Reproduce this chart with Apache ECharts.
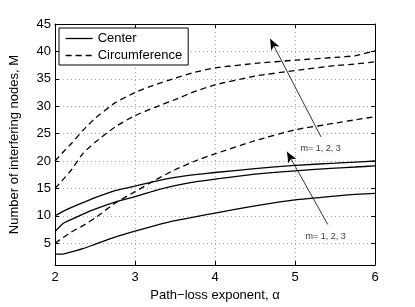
<!DOCTYPE html>
<html><head><meta charset="utf-8">
<script src="https://cdn.jsdelivr.net/npm/echarts@6/dist/echarts.min.js"></script>
<style>html,body{margin:0;padding:0;background:#fff}#c{width:415px;height:307px}</style>
</head><body><div id="c"></div>
<script>
var alpha = [2, 2.1, 2.2, 2.35, 2.5, 2.75, 3, 3.25, 3.5, 3.75, 4, 4.5, 5, 5.5, 5.75, 6];
var center1 = [3.0, 3.0, 3.4, 4.0, 4.8, 6.1, 7.2, 8.2, 9.1, 9.8, 10.5, 11.8, 12.9, 13.6, 13.9, 14.1];
var center2 = [7.1, 8.6, 9.3, 10.3, 11.2, 12.5, 13.5, 14.6, 15.5, 16.2, 16.7, 17.6, 18.2, 18.7, 18.9, 19.1];
var center3 = [10.0, 10.8, 11.5, 12.4, 13.3, 14.6, 15.4, 16.3, 17.0, 17.5, 17.9, 18.6, 19.2, 19.6, 19.8, 20.0];
var circ1 = [5.0, 6.0, 7.0, 8.2, 9.6, 12.3, 14.4, 16.5, 18.4, 20.0, 21.3, 23.7, 25.7, 26.9, 27.5, 28.1];
var circ2 = [15.0, 16.6, 18.3, 21.4, 23.4, 26.2, 28.3, 29.8, 31.2, 32.7, 33.9, 35.5, 36.5, 37.4, 37.7, 38.1];
var circ3 = [20.0, 21.6, 23.1, 25.6, 27.8, 30.6, 32.5, 33.9, 35.1, 36.2, 37.0, 37.8, 38.4, 38.9, 39.2, 40.1];
var yTicks = [5, 10, 15, 20, 25, 30, 35, 40, 45];
var arrowUp = [[5.325, 24.4], [4.69, 42.3]];
var arrowDown = [[5.41, 8.4], [4.9, 21.7]];
var noteUp = [5.07, 22.2];
var noteDown = [5.13, 6.3];
var noteText = 'm= 1, 2, 3';

function pairs(v){ return alpha.map(function(a,i){ return [a, v[i]]; }); }
var FONT = 'Liberation Sans, Arial, sans-serif';
var axisLine = {show:true, lineStyle:{color:'#000', width:1}};
var split = {show:true, lineStyle:{color:'#aaa', type:[1,3], width:1}};
function ser(name, v, dashed){
  return {name:name, type:'line', data:pairs(v), symbol:'none', showSymbol:false, smooth:0.15,
    lineStyle:{color:'#000', width:1.3, type: dashed ? [6,4] : 'solid'}, itemStyle:{color:'#000'}, z:3};
}
var chart = echarts.init(document.getElementById('c'));
chart.setOption({
  animation:false,
  textStyle:{fontFamily:FONT},
  grid:{left:54, right:40, top:24, bottom:36},
  legend:{left:59, top:28, orient:'vertical', itemWidth:27, itemHeight:10, itemGap:4,
    padding:[4,6,3,6], borderColor:'#000', borderWidth:1, backgroundColor:'#fff',
    itemStyle:{opacity:0},
    lineStyle:{color:'#000', width:1.3, opacity:1},
    textStyle:{fontSize:13, color:'#000', fontFamily:FONT},
    data:['Center','Circumference']},
  xAxis:[{type:'value', min:2, max:6, interval:1, position:'bottom',
      name:'Path\u2212loss exponent, \u03b1', nameLocation:'middle', nameGap:20,
      nameTextStyle:{fontSize:13, color:'#000'},
      axisLine:axisLine, axisTick:{inside:true, length:4, lineStyle:{color:'#000'}},
      axisLabel:{fontSize:13, color:'#000', margin:6}, splitLine:split},
    {type:'value', min:2, max:6, interval:1, position:'top',
      axisLine:axisLine, axisTick:{inside:true, length:4, lineStyle:{color:'#000'}},
      axisLabel:{show:false}, splitLine:{show:false}}],
  yAxis:[{type:'value', min:1, max:45, position:'left',
      name:'Number of interfering nodes, M', nameLocation:'middle', nameGap:34,
      nameTextStyle:{fontSize:13, color:'#000'},
      axisLine:axisLine, axisTick:{inside:true, length:4, customValues:yTicks, lineStyle:{color:'#000'}},
      axisLabel:{fontSize:13, color:'#000', margin:4, customValues:yTicks}, splitLine:split},
    {type:'value', min:1, max:45, position:'right',
      axisLine:axisLine, axisTick:{inside:true, length:4, customValues:yTicks, lineStyle:{color:'#000'}},
      axisLabel:{show:false, customValues:yTicks}, splitLine:{show:false}}],
  series:[
    ser('Center', center1, false), ser('Center', center2, false), ser('Center', center3, false),
    ser('Circumference', circ1, true), ser('Circumference', circ2, true), ser('Circumference', circ3, true),
    {type:'line', data:[], silent:true,
      markLine:{silent:true, symbol:['none','arrow'], symbolSize:[7,11], animation:false,
        lineStyle:{color:'#000', width:0.8, type:'solid'}, label:{show:false},
        data:[[{coord:arrowUp[0]},{coord:arrowUp[1]}],[{coord:arrowDown[0]},{coord:arrowDown[1]}]]}},
    {type:'scatter', data:[noteUp, noteDown], symbolSize:0, silent:true,
      label:{show:true, position:'right', distance:0, formatter:noteText, fontSize:9, color:'#000', fontFamily:FONT}}
  ]
});
</script></body></html>
